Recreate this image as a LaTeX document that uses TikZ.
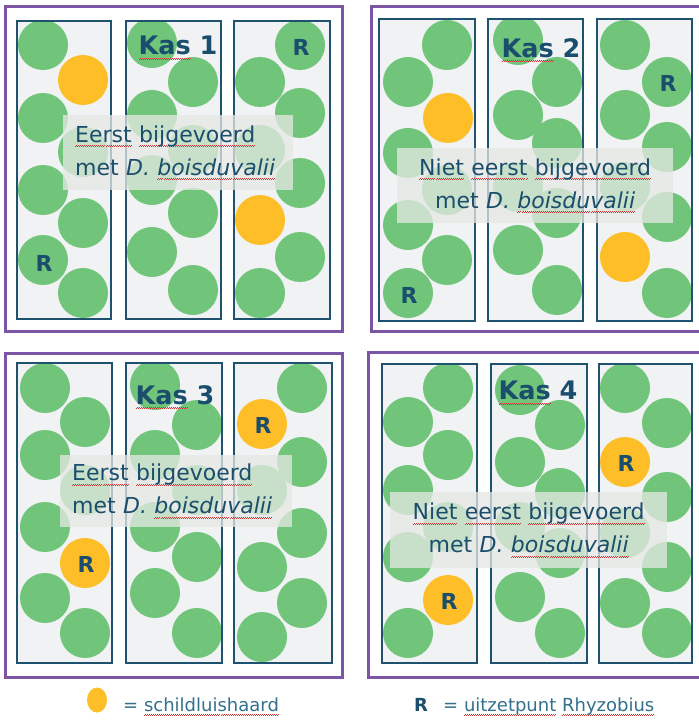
\documentclass[tikz,border=0pt]{standalone}
\usepackage{fontspec}
\setmainfont{DejaVu Sans}
\usetikzlibrary{shapes.geometric}
\definecolor{leaf}{RGB}{112,197,122}
\definecolor{sun}{RGB}{253,190,40}
\definecolor{bedfill}{RGB}{240,242,243}
\definecolor{bedline}{RGB}{30,82,110}
\definecolor{kasline}{RGB}{125,85,165}
\definecolor{labfill}{RGB}{230,232,228}
\definecolor{ink}{RGB}{26,78,108}
\definecolor{legink}{RGB}{50,112,142}
\definecolor{squig}{RGB}{215,50,50}
\newsavebox\splbox
\newcommand\spl[1]{\leavevmode\sbox\splbox{#1}%
  \rlap{\hbox to \wd\splbox{\xleaders\hbox{\textcolor{squig}{\rule[-4.6pt]{1pt}{0.7pt}\rule[-3.9pt]{1pt}{0.7pt}}}\hfill}}%
  \usebox\splbox}
\newcommand\bed[3]{%
  \fill[bedfill] #1 rectangle #2;
  \begin{scope}
    \clip #1 rectangle #2;
    \foreach \x/\y/\c in {#3} \fill[\c] (\x,\y) circle (25pt);
  \end{scope}
  \draw[bedframe] #1 rectangle #2;}
\begin{document}
\begin{tikzpicture}[x=1pt,y=-1pt,
  kasframe/.style={draw=kasline,line width=3pt},
  bedframe/.style={draw=bedline,line width=2.8pt},
  rmark/.style={text=ink,font=\bfseries\fontsize{22}{24}\selectfont,inner sep=0pt},
  kastitle/.style={text=ink,font=\bfseries\fontsize{25.5}{30}\selectfont,inner sep=0pt},
  labelbox/.style={fill=labfill,fill opacity=0.75,text opacity=1,text=ink,
    font=\fontsize{22}{33}\selectfont,inner xsep=12pt,inner ysep=0pt,anchor=north west},
  legtext/.style={text=legink,font=\fontsize{18}{22}\selectfont,inner sep=0pt,anchor=base west},
  legdot/.style={ellipse,fill=sun,minimum width=20pt,minimum height=25pt,inner sep=0pt}]
\useasboundingbox (0,0) rectangle (698,722);
\fill[white] (0,0) rectangle (698,722);
% outer frames
\draw[kasframe] (5,7) rectangle (342,331);
\draw[kasframe] (371,7) rectangle (703,331);
\draw[kasframe] (5,353) rectangle (342,677);
\draw[kasframe] (368,352) rectangle (703,677);
% Kas 1
\bed{(17,21)}{(111,319)}{43/45/leaf,83/80/sun,43/118/leaf,83/152/leaf,43/190/leaf,83/223/leaf,43/260/leaf,83/293/leaf}
\bed{(126,21)}{(221,319)}{152/43/leaf,193/82/leaf,152/115/leaf,193/150/leaf,152/180/leaf,193/213/leaf,152/252/leaf,193/290/leaf}
\bed{(234,21)}{(330,319)}{300/45/leaf,260/82/leaf,300/113/leaf,260/150/leaf,300/183/leaf,260/220/sun,300/257/leaf,260/293/leaf}
% Kas 2
\bed{(379,19)}{(475,321)}{447/45/leaf,408/82/leaf,448/118/sun,408/153/leaf,447/190/leaf,408/225/leaf,447/260/leaf,408/293/leaf}
\bed{(488,19)}{(583,321)}{518/40/leaf,557/82/leaf,518/115/leaf,557/143/leaf,518/187/leaf,557/213/leaf,518/250/leaf,557/290/leaf}
\bed{(597,19)}{(692,321)}{625/45/leaf,667/82/leaf,625/115/leaf,667/147/leaf,625/187/leaf,667/217/leaf,625/257/sun,667/293/leaf}
% Kas 3
\bed{(17,363)}{(112,663)}{45/388/leaf,85/422/leaf,45/455/leaf,85/490/leaf,45/527/leaf,85/563/sun,45/598/leaf,85/633/leaf}
\bed{(126,363)}{(222,663)}{155/385/leaf,197/425/leaf,155/455/leaf,197/490/leaf,155/527/leaf,197/557/leaf,155/593/leaf,197/633/leaf}
\bed{(234,363)}{(332,663)}{302/388/leaf,262/424/sun,302/462/leaf,262/490/leaf,302/533/leaf,262/567/leaf,302/603/leaf,262/637/leaf}
% Kas 4
\bed{(382,364)}{(477,663)}{448/388/leaf,408/422/leaf,448/455/leaf,408/490/leaf,448/527/leaf,408/557/leaf,448/600/sun,408/633/leaf}
\bed{(491,364)}{(587,663)}{520/390/leaf,560/425/leaf,520/462/leaf,560/493/leaf,520/527/leaf,560/553/leaf,520/597/leaf,560/633/leaf}
\bed{(599,364)}{(692,663)}{625/388/leaf,667/423/leaf,625/462/sun,667/497/leaf,625/533/leaf,667/567/leaf,625/603/leaf,667/633/leaf}
% R marks
\node[rmark] (r1a) at (44,263) {R};
\node[rmark] (r1b) at (301,47) {R};
\node[rmark] (r2a) at (409,295) {R};
\node[rmark] (r2b) at (668,83) {R};
\node[rmark] (r3a) at (86,564) {R};
\node[rmark] (r3b) at (263,425) {R};
\node[rmark] (r4a) at (449,601) {R};
\node[rmark] (r4b) at (626,463) {R};
% titles
\node[kastitle] (k1) at (178,48) {\spl{Kas} 1};
\node[kastitle] (k2) at (541,50) {\spl{Kas} 2};
\node[kastitle] (k3) at (175,397) {\spl{Kas} 3};
\node[kastitle] (k4) at (538,393) {\spl{Kas} 4};
% label boxes
\node[labelbox,text width=206pt,minimum height=75pt,align=left] (t1) at (63,115)
  {\spl{Eerst} \spl{bijgevoerd}\\met \textit{D.} \spl{\textit{boisduvalii}}};
\node[labelbox,text width=252pt,minimum height=75pt,align=center] (t2) at (397,148)
  {\spl{Niet} \spl{eerst} \spl{bijgevoerd}\\met \textit{D.} \spl{\textit{boisduvalii}}};
\node[labelbox,text width=208pt,minimum height=72pt,align=left] (t3) at (60,455)
  {\spl{Eerst} \spl{bijgevoerd}\\met \textit{D.} \spl{\textit{boisduvalii}}};
\node[labelbox,text width=253pt,minimum height=76pt,align=center] (t4) at (390,492)
  {\spl{Niet} \spl{eerst} \spl{bijgevoerd}\\met \textit{D.} \spl{\textit{boisduvalii}}};
% legend
\node[legdot] (ld) at (97,700) {};
\node[legtext] (lt1) at (123,711) {= \spl{schildluishaard}};
\node[legtext,text=ink,font=\bfseries\fontsize{18}{22}\selectfont] (lr) at (414,711) {R};
\node[legtext] (lt2) at (443,711) {= \spl{uitzetpunt} \spl{Rhyzobius}};
\end{tikzpicture}
\end{document}
